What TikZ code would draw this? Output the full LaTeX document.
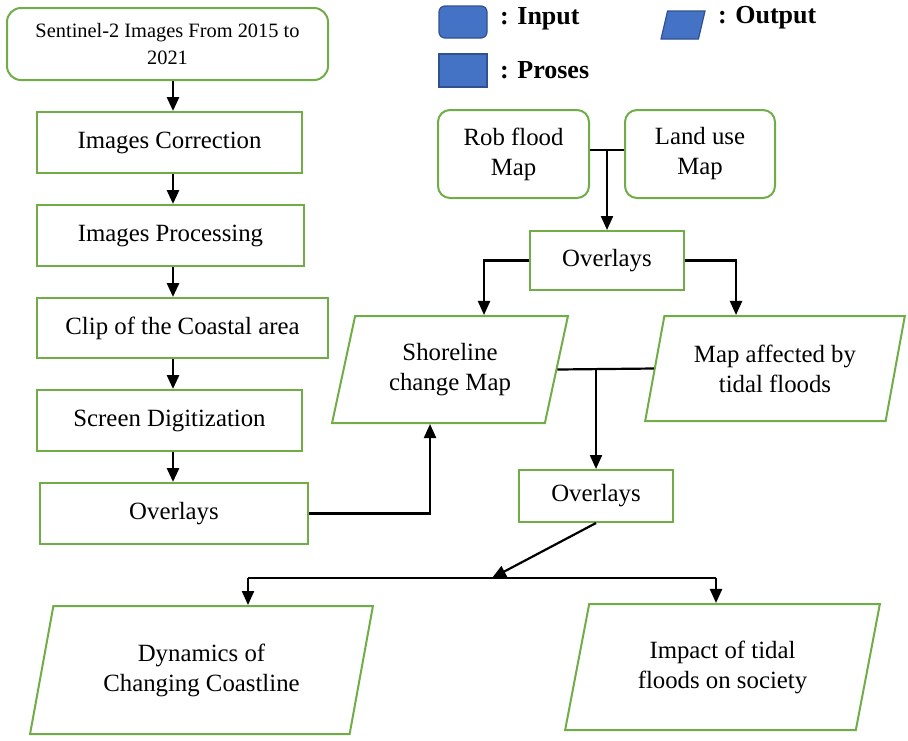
\documentclass[tikz,border=0pt]{standalone}
\usepackage{fontspec}
\setmainfont{Liberation Serif}
\usetikzlibrary{shapes.geometric, arrows.meta, positioning}
\definecolor{boxgreen}{RGB}{112,173,71}
\definecolor{keyblue}{RGB}{68,114,196}
\definecolor{keyedge}{RGB}{47,82,143}
\tikzset{
>={Triangle[length=7pt,width=6pt]}, % filled triangle heads
flow/.style={->, line width=1.1pt}, % connectors
inbox/.style={draw=boxgreen, line width=1pt, rounded corners=7pt, align=center, font=\fontsize{12.4}{15}\selectfont}, % input
procbox/.style={draw=boxgreen, line width=1pt, align=center, font=\fontsize{12.4}{15}\selectfont}, % process
outbox/.style={trapezium, trapezium left angle=76, trapezium right angle=104, trapezium stretches=true, draw=boxgreen, line width=1pt, align=center, font=\fontsize{12.4}{15}\selectfont}, % output
keyshape/.style={draw=keyedge, fill=keyblue, line width=0.6pt},
keytext/.style={anchor=west, font=\fontsize{13}{15}\selectfont\bfseries},
}

\begin{document}
\begin{tikzpicture}[x=0.5pt, y=-0.5pt]
\useasboundingbox (0,0) rectangle (908,740);

% legend
\node[keyshape, rounded corners=3pt, minimum width=24pt, minimum height=16pt] (keyin) at (463,22) {};
\node[keytext] (keyintxt) at (493,19) {: Input};
\node[keyshape, trapezium, trapezium left angle=78, trapezium right angle=102, trapezium stretches=true, minimum width=22pt, minimum height=14pt] (keyout) at (683,25) {};
\node[keytext] (keyouttxt) at (711,18) {: Output};
\node[keyshape, minimum width=24pt, minimum height=16.5pt] (keyproc) at (463,70.5) {};
\node[keytext] (keyproctxt) at (493,70) {: Proses};

% left column
\node[inbox, minimum width=160.5pt, minimum height=36pt, font=\fontsize{10.2}{13.5}\selectfont] (sent) at (167.5,44) {Sentinel-2 Images From 2015 to\\2021};
\node[procbox, minimum width=132.5pt, minimum height=30.5pt] (corr) at (169.5,142.5) {Images Correction};
\node[procbox, minimum width=133.5pt, minimum height=30.5pt] (proc) at (170.5,235.5) {Images Processing};
\node[procbox, minimum width=145.5pt, minimum height=30pt] (clip) at (182.5,328) {Clip of the Coastal area};
\node[procbox, minimum width=132.5pt, minimum height=30.5pt] (scr) at (169.5,420.5) {Screen Digitization};
\node[procbox, minimum width=134pt, minimum height=30.5pt] (ov1) at (174,513.5) {Overlays};
\coordinate (spine) at (173,0);

% right part
\node[inbox, rounded corners=6pt, minimum width=75.5pt, minimum height=44pt] (rob) at (513.5,154) {Rob flood\\Map};
\node[inbox, rounded corners=6pt, minimum width=75pt, minimum height=44pt] (land) at (700,154) {Land use\\Map};
\node[procbox, minimum width=77pt, minimum height=29.5pt] (ov2) at (607,260.5) {Overlays};
\node[outbox, minimum width=119pt, minimum height=53.5pt] (shore) at (450,369.5) {Shoreline\\change Map};
\node[outbox, minimum width=130pt, minimum height=52.5pt] (tidal) at (775,368.5) {Map affected by\\tidal floods};
\node[procbox, minimum width=77pt, minimum height=26pt] (ov3) at (596,496) {Overlays};
\node[outbox, minimum width=171.5pt, minimum height=64pt] (dyn) at (201.5,670) {Dynamics of\\Changing Coastline};
\node[outbox, minimum width=157.5pt, minimum height=63pt] (imp) at (722.5,667) {Impact of tidal\\floods on society};
\coordinate (split) at (492,578);
\coordinate (busL) at (248,578);
\coordinate (busR) at (716,578);

% connectors
\foreach \a/\b in {sent/corr, corr/proc, proc/clip, clip/scr, scr/ov1}
  \draw[flow, line width=1.4pt] (\a.south -| spine) -- (\b.north -| spine);
\draw[flow] (ov1.east) -| ([xshift=-10pt]shore.south);
\draw[line width=1.1pt] ([yshift=2pt]rob.east) -- ([yshift=2pt]land.west);
\draw[flow] ([yshift=2pt]ov2.north |- rob.east) -- (ov2.north);
\draw[flow] (ov2.west) -| ([xshift=17pt]shore.north);
\draw[flow] (ov2.east) -| ([xshift=-19.5pt]tidal.north);
\draw[line width=1.1pt] (shore.east) -- (tidal.west);
\draw[flow] (ov3.north |- shore.east) -- (ov3.north);
\draw[flow] (ov3.south) -- (split);
\draw[line width=1.1pt] (busL) -- (busR);
\draw[flow] (busL) -- (busL |- dyn.north);
\draw[flow] (busR) -- (busR |- imp.north);
\end{tikzpicture}
\end{document}
